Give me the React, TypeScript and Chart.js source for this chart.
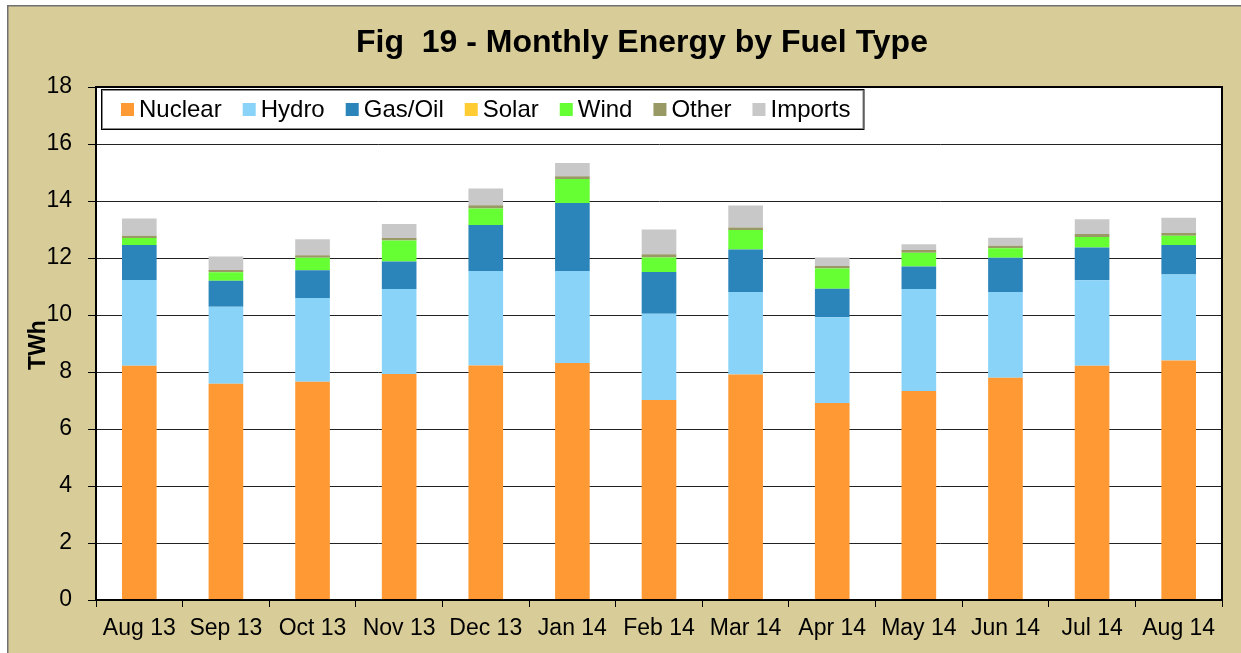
import React, { useEffect, useRef } from "react";
import { Chart, registerables } from "chart.js";

Chart.register(...registerables);

const W = 1241;
const H = 653;
const FONT = "'Liberation Sans', Arial, sans-serif";

const months = ["Aug 13", "Sep 13", "Oct 13", "Nov 13", "Dec 13", "Jan 14", "Feb 14", "Mar 14", "Apr 14", "May 14", "Jun 14", "Jul 14", "Aug 14"];
const nuclear = [8.22, 7.59, 7.66, 7.93, 8.23, 8.32, 7.02, 7.91, 6.91, 7.33, 7.8, 8.22, 8.4];
const hydro = [3.01, 2.7, 2.94, 2.98, 3.31, 3.22, 3.02, 2.9, 3.01, 3.58, 3.01, 3.0, 3.02];
const gasOil = [1.23, 0.91, 0.97, 0.97, 1.62, 2.39, 1.47, 1.49, 1.0, 0.79, 1.2, 1.15, 1.04];
const solar = [0, 0, 0, 0, 0, 0, 0, 0, 0, 0, 0, 0, 0];
const wind = [0.24, 0.3, 0.44, 0.73, 0.58, 0.84, 0.51, 0.68, 0.71, 0.48, 0.33, 0.37, 0.32];
const other = [0.08, 0.08, 0.09, 0.09, 0.11, 0.1, 0.11, 0.09, 0.09, 0.1, 0.09, 0.1, 0.1];
const imports = [0.61, 0.47, 0.56, 0.49, 0.59, 0.46, 0.87, 0.77, 0.3, 0.2, 0.28, 0.52, 0.53];

const seriesNames = ["Nuclear", "Hydro", "Gas/Oil", "Solar", "Wind", "Other", "Imports"];
const seriesColors = ["#FF9933", "#89D3F8", "#2C85BA", "#FFCC33", "#66FF33", "#999966", "#C8C8C8"];
const seriesData = [nuclear, hydro, gasOil, solar, wind, other, imports];

const yTicks = [0, 2, 4, 6, 8, 10, 12, 14, 16, 18];
const titleText = "Fig  19 - Monthly Energy by Fuel Type";
const yTitle = "TWh";

const TAN = "#D8CD99";

export default function App() {
  const ref = useRef<HTMLCanvasElement>(null);

  useEffect(() => {
    if (!ref.current) return;

    const deco = {
      id: "deco",
      beforeDraw(chart: any) {
        const { ctx, chartArea: a } = chart;
        ctx.save();
        ctx.fillStyle = "#ffffff";
        ctx.fillRect(0, 0, W, H);
        ctx.fillStyle = TAN;
        ctx.fillRect(7, 5, W - 7, H - 5);
        ctx.strokeStyle = "#707070";
        ctx.lineWidth = 1.5;
        ctx.beginPath();
        ctx.moveTo(7.75, H);
        ctx.lineTo(7.75, 5.75);
        ctx.lineTo(W, 5.75);
        ctx.stroke();
        ctx.fillStyle = "#ffffff";
        ctx.fillRect(a.left, a.top, a.right - a.left, a.bottom - a.top);
        ctx.restore();
      },
      afterDraw(chart: any) {
        const { ctx, chartArea: a } = chart;
        ctx.save();
        // plot border
        ctx.strokeStyle = "#000";
        ctx.lineWidth = 2;
        ctx.strokeRect(a.left, a.top, a.right - a.left, a.bottom - a.top);

        // title
        ctx.fillStyle = "#000";
        ctx.font = `bold 32px ${FONT}`;
        ctx.textAlign = "center";
        ctx.textBaseline = "alphabetic";
        ctx.fillText(titleText, 642, 52);

        // y title
        ctx.save();
        ctx.translate(45, 345);
        ctx.rotate(-Math.PI / 2);
        ctx.font = `bold 23px ${FONT}`;
        ctx.textAlign = "center";
        ctx.fillText(yTitle, 0, 0);
        ctx.restore();

        // legend
        ctx.font = `24px ${FONT}`;
        ctx.textAlign = "left";
        ctx.textBaseline = "middle";
        const boxLeft = 101;
        const boxTop = 89;
        const boxH = 40;
        const cy = boxTop + boxH / 2;
        let x = 121;
        const items: Array<[number, number]> = [];
        seriesNames.forEach((n, i) => {
          items.push([x, i]);
          x += 18 + ctx.measureText(n).width + 21;
        });
        const boxRight = x - 21 + 13;
        ctx.fillStyle = "#fff";
        ctx.fillRect(boxLeft, boxTop, boxRight - boxLeft, boxH);
        ctx.strokeStyle = "#888";
        ctx.lineWidth = 1;
        ctx.strokeRect(boxLeft + 1.5, boxTop + 1.5, boxRight - boxLeft - 2, boxH - 2);
        ctx.strokeStyle = "#000";
        ctx.strokeRect(boxLeft + 0.5, boxTop + 0.5, boxRight - boxLeft, boxH);
        items.forEach(([ix, i]) => {
          ctx.fillStyle = seriesColors[i];
          ctx.fillRect(ix, cy - 6, 13, 13);
          ctx.fillStyle = "#000";
          ctx.fillText(seriesNames[i], ix + 18, cy + 1);
        });
        ctx.restore();
      },
    };

    const chart = new Chart(ref.current, {
      type: "bar",
      data: {
        labels: months,
        datasets: seriesData.map((d, i) => ({
          label: seriesNames[i],
          data: d,
          backgroundColor: seriesColors[i],
          borderWidth: 0,
          barPercentage: 0.4,
          categoryPercentage: 1,
        })),
      },
      options: {
        responsive: false,
        animation: false,
        devicePixelRatio: 1,
        layout: { padding: { left: 0, top: 87, right: 19, bottom: 0 } },
        plugins: {
          legend: { display: false },
          title: { display: false },
          tooltip: { enabled: false },
        },
        scales: {
          x: {
            stacked: true,
            afterFit(scale: any) {
              scale.height = 53;
            },
            grid: {
              offset: true,
              drawOnChartArea: false,
              drawTicks: true,
              tickLength: 7,
              color: "#000",
            },
            border: { color: "#000", width: 2 },
            ticks: {
              color: "#000",
              font: { family: FONT, size: 23 },
              padding: 8,
              maxRotation: 0,
              autoSkip: false,
            },
          },
          y: {
            stacked: true,
            min: 0,
            max: 18,
            afterFit(scale: any) {
              scale.width = 96;
            },
            afterBuildTicks(scale: any) {
              scale.ticks = yTicks.map((v) => ({ value: v }));
            },
            grid: {
              color: "#222",
              lineWidth: 1,
              drawTicks: true,
              tickLength: 8,
              tickColor: "#000",
            },
            border: { color: "#000", width: 2 },
            ticks: {
              color: "#000",
              font: { family: FONT, size: 23 },
              padding: 16,
            },
          },
        },
      },
      plugins: [deco],
    });

    return () => chart.destroy();
  }, []);

  return (
    <div style={{ position: "fixed", left: 0, top: 0, width: W, height: H, background: "#fff" }}>
      <canvas ref={ref} width={W} height={H} style={{ display: "block", width: W, height: H }} />
    </div>
  );
}
